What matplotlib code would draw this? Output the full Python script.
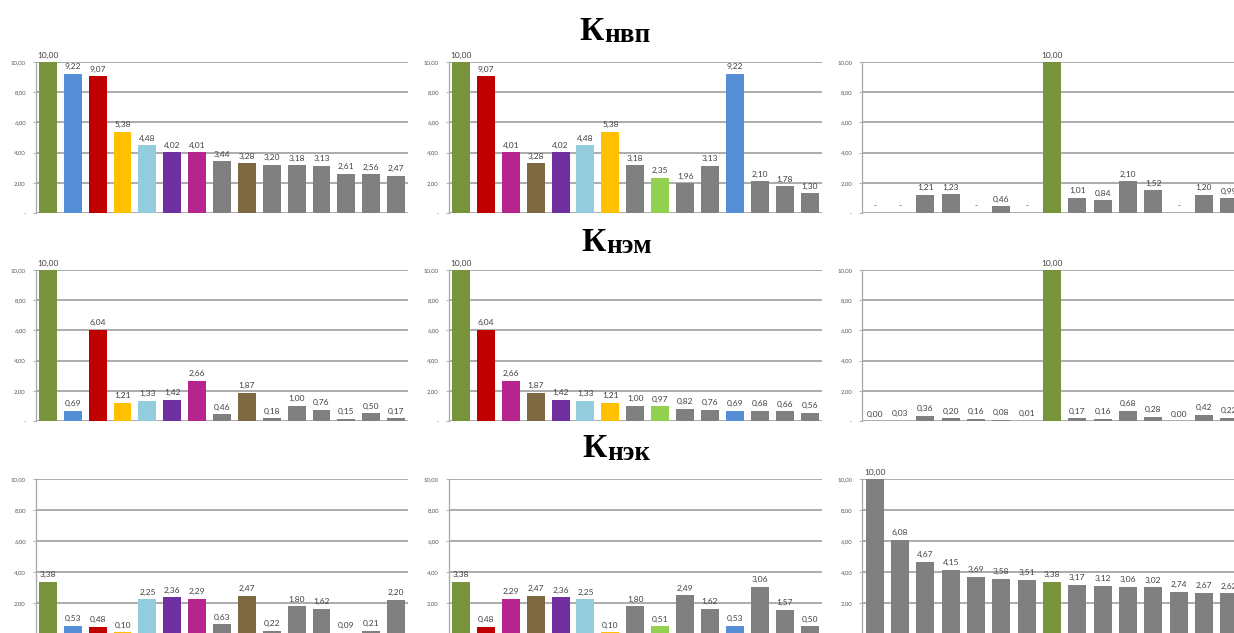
import matplotlib
matplotlib.use('Agg')
import matplotlib.pyplot as plt

# ---------------- data ----------------
palette = {
    'g': '#77933C',   # olive green
    'b': '#558ED5',   # blue
    'r': '#C00000',   # red
    'y': '#FFC000',   # yellow
    'c': '#93CDDD',   # light blue
    'p': '#7030A0',   # purple
    'm': '#B6248E',   # magenta
    'n': '#7E6A42',   # brown
    'k': '#808080',   # gray
    'l': '#92D050',   # light green
}

titles_main = ['К', 'К', 'К']
titles_sub = ['нвп', 'нэм', 'нэк']

# Row 1 (Кнвп)
nvp_left = [10.00, 9.22, 9.07, 5.38, 4.48, 4.02, 4.01, 3.44, 3.28, 3.20, 3.18, 3.13, 2.61, 2.56, 2.47]
nvp_left_c = ['g', 'b', 'r', 'y', 'c', 'p', 'm', 'k', 'n', 'k', 'k', 'k', 'k', 'k', 'k']
nvp_mid = [10.00, 9.07, 4.01, 3.28, 4.02, 4.48, 5.38, 3.18, 2.35, 1.96, 3.13, 9.22, 2.10, 1.78, 1.30]
nvp_mid_c = ['g', 'r', 'm', 'n', 'p', 'c', 'y', 'k', 'l', 'k', 'k', 'b', 'k', 'k', 'k']
nvp_right = [0.00, 0.00, 1.21, 1.23, 0.00, 0.46, 0.00, 10.00, 1.01, 0.84, 2.10, 1.52, 0.00, 1.20, 0.99]
nvp_right_c = ['k'] * 7 + ['g'] + ['k'] * 7

# Row 2 (Кнэм)
nem_left = [10.00, 0.69, 6.04, 1.21, 1.33, 1.42, 2.66, 0.46, 1.87, 0.18, 1.00, 0.76, 0.15, 0.50, 0.17]
nem_left_c = ['g', 'b', 'r', 'y', 'c', 'p', 'm', 'k', 'n', 'k', 'k', 'k', 'k', 'k', 'k']
nem_mid = [10.00, 6.04, 2.66, 1.87, 1.42, 1.33, 1.21, 1.00, 0.97, 0.82, 0.76, 0.69, 0.68, 0.66, 0.56]
nem_mid_c = ['g', 'r', 'm', 'n', 'p', 'c', 'y', 'k', 'l', 'k', 'k', 'b', 'k', 'k', 'k']
nem_right = [0.00, 0.03, 0.36, 0.20, 0.16, 0.08, 0.01, 10.00, 0.17, 0.16, 0.68, 0.28, 0.00, 0.42, 0.22]
nem_right_c = ['k'] * 7 + ['g'] + ['k'] * 7

# Row 3 (Кнэк)
nek_left = [3.38, 0.53, 0.48, 0.10, 2.25, 2.36, 2.29, 0.63, 2.47, 0.22, 1.80, 1.62, 0.09, 0.21, 2.20]
nek_left_c = ['g', 'b', 'r', 'y', 'c', 'p', 'm', 'k', 'n', 'k', 'k', 'k', 'k', 'k', 'k']
nek_mid = [3.38, 0.48, 2.29, 2.47, 2.36, 2.25, 0.10, 1.80, 0.51, 2.49, 1.62, 0.53, 3.06, 1.57, 0.50]
nek_mid_c = ['g', 'r', 'm', 'n', 'p', 'c', 'y', 'k', 'l', 'k', 'k', 'b', 'k', 'k', 'k']
nek_right = [10.00, 6.08, 4.67, 4.15, 3.69, 3.58, 3.51, 3.38, 3.17, 3.12, 3.06, 3.02, 2.74, 2.67, 2.62]
nek_right_c = ['k'] * 7 + ['g'] + ['k'] * 7

y_ticks = [0, 2, 4, 6, 8, 10]
y_tick_labels = ['-', '2,00', '4,00', '6,00', '8,00', '10,00']

panels = [
    [(nvp_left, nvp_left_c, True), (nvp_mid, nvp_mid_c, True), (nvp_right, nvp_right_c, True)],
    [(nem_left, nem_left_c, False), (nem_mid, nem_mid_c, False), (nem_right, nem_right_c, False)],
    [(nek_left, nek_left_c, False), (nek_mid, nek_mid_c, False), (nek_right, nek_right_c, False)],
]

# ---------------- layout ----------------
W, H = 1234, 633
fig = plt.figure(figsize=(W / 100, H / 100), dpi=100)
fig.patch.set_facecolor('white')

cols_px = [(35.5, 408.5), (448.5, 822.0), (862.0, 1242.0)]
rows_px = [(62, 213), (270, 421), (479, 634)]
title_px = [(604, 40, 42), (606, 251, 253), (607, 457, 460)]

NUMFONT = ['Lato', 'DejaVu Sans']
GRID = '#A6A6A6'


def fmt(v, dash_zero):
    if dash_zero and abs(v) < 0.005:
        return '-'
    return f'{v:.2f}'.replace('.', ',')


for ri, row in enumerate(panels):
    top, bot = rows_px[ri]
    for ci, (vals, ckeys, dash_zero) in enumerate(row):
        x0, x1 = cols_px[ci]
        ax = fig.add_axes([x0 / W, 1 - bot / H, (x1 - x0) / W, (bot - top) / H])
        ax.set_facecolor('none')
        xs = list(range(len(vals)))
        bars = ax.bar(xs, vals, width=0.72, color=[palette[k] for k in ckeys],
                      zorder=3, linewidth=0)
        ax.bar_label(bars, labels=[fmt(v, dash_zero) for v in vals], padding=2.5,
                     fontsize=6.0, color='#404040', family=NUMFONT, clip_on=False)
        ax.set_xlim(-0.5, len(vals) - 0.5)
        ax.set_ylim(0, 10)
        ax.set_yticks(y_ticks)
        ax.set_yticklabels(y_tick_labels)
        ax.set_xticks([])
        ax.tick_params(axis='y', length=2, width=0.6, color=GRID, pad=5,
                       labelsize=4.3, labelcolor='#595959')
        for lab in ax.get_yticklabels():
            lab.set_family(NUMFONT)
        ax.grid(axis='y', color=GRID, linewidth=1.3, zorder=0)
        ax.set_axisbelow(True)
        for s in ['top', 'right', 'bottom']:
            ax.spines[s].set_visible(False)
        ax.spines['left'].set_color(GRID)
        ax.spines['left'].set_linewidth(0.9)

    # title
    tx, by_main, by_sub = title_px[ri]
    fig.text(tx / W, 1 - by_main / H, titles_main[ri], ha='right', va='baseline',
             fontsize=24, fontweight='bold', family='Liberation Serif', color='black')
    fig.text(tx / W, 1 - by_sub / H, titles_sub[ri], ha='left', va='baseline',
             fontsize=19.5, fontweight='bold', family='Liberation Serif', color='black')

fig.savefig('out.png', dpi=100, facecolor='white')
